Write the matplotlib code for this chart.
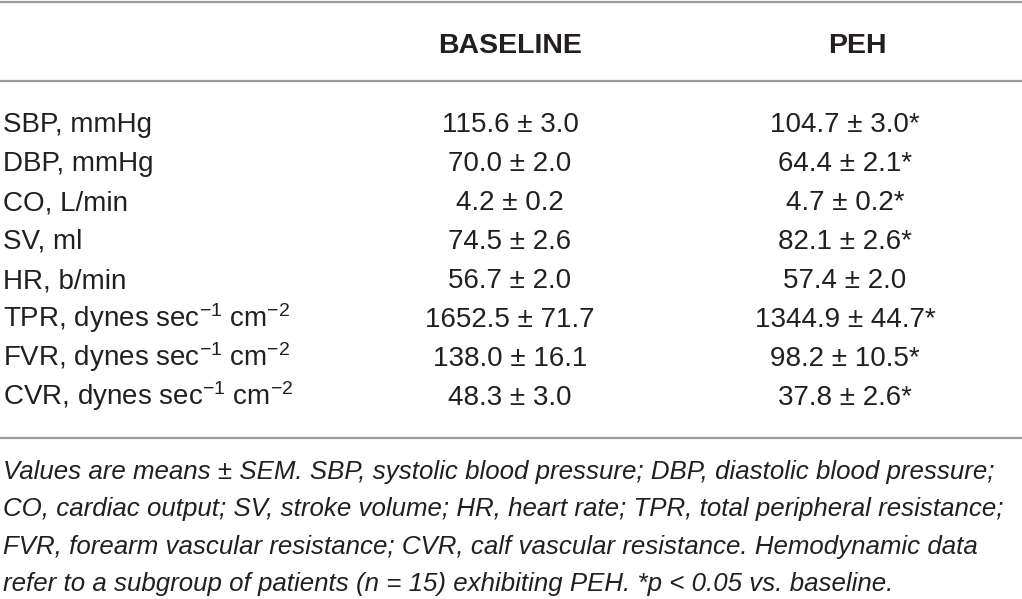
import matplotlib
matplotlib.use("Agg")
import matplotlib.pyplot as plt

# ---- data ----
col_headers = ["BASELINE", "PEH"]
row_labels = [
    "SBP, mmHg",
    "DBP, mmHg",
    "CO, L/min",
    "SV, ml",
    "HR, b/min",
    r"TPR, dynes sec$^{-1}$ cm$^{-2}$",
    r"FVR, dynes sec$^{-1}$ cm$^{-2}$",
    r"CVR, dynes sec$^{-1}$ cm$^{-2}$",
]
baseline_mean = ["115.6", "70.0", "4.2", "74.5", "56.7", "1652.5", "138.0", "48.3"]
baseline_sem = ["3.0", "2.0", "0.2", "2.6", "2.0", "71.7", "16.1", "3.0"]
peh_mean = ["104.7", "64.4", "4.7", "82.1", "57.4", "1344.9", "98.2", "37.8"]
peh_sem = ["3.0", "2.1", "0.2", "2.6", "2.0", "44.7", "10.5", "2.6"]
peh_sig = [True, True, True, True, False, True, True, True]
footnote_lines = [
    "Values are means ± SEM. SBP, systolic blood pressure; DBP, diastolic blood pressure;",
    "CO, cardiac output; SV, stroke volume; HR, heart rate; TPR, total peripheral resistance;",
    "FVR, forearm vascular resistance; CVR, calf vascular resistance. Hemodynamic data",
    "refer to a subgroup of patients (n = 15) exhibiting PEH. *p < 0.05 vs. baseline.",
]

# ---- style ----
plt.rcParams["font.family"] = ["Liberation Sans", "DejaVu Sans"]
plt.rcParams["mathtext.fontset"] = "custom"
plt.rcParams["mathtext.rm"] = "Liberation Sans"
plt.rcParams["mathtext.it"] = "Liberation Sans:italic"
plt.rcParams["mathtext.bf"] = "Liberation Sans:bold"
plt.rcParams["mathtext.default"] = "regular"

TXT = "#231f20"
LINE = "#9a9a9a"
FS = 20
FS_HEAD = 20.5
FS_FOOT = 18.6

W, H = 1022, 599
fig = plt.figure(figsize=(W / 100, H / 100), dpi=100)
ax = fig.add_axes([0, 0, 1, 1])
ax.set_xlim(0, W)
ax.set_ylim(H, 0)
ax.axis("off")

x_label = 3
x_base = 510
x_peh_head = 857
x_peh = 845
y_head = 53
y_row0 = 132
row_step = 39
y_foot0 = 479
foot_step = 37.3

# rules
for y in (1.5, 81, 438):
    ax.axhline(y, color=LINE, lw=1.6)

ax.text(x_base, y_head, col_headers[0], ha="center", va="baseline",
        fontsize=FS_HEAD, fontweight="bold", color=TXT)
ax.text(x_peh_head, y_head, col_headers[1], ha="center", va="baseline",
        fontsize=FS_HEAD, fontweight="bold", color=TXT)

for i, lab in enumerate(row_labels):
    y = y_row0 + i * row_step
    ax.text(x_label, y, lab, ha="left", va="baseline", fontsize=FS, color=TXT)
    ax.text(x_base, y, f"{baseline_mean[i]} ± {baseline_sem[i]}", ha="center",
            va="baseline", fontsize=FS, color=TXT)
    s = f"{peh_mean[i]} ± {peh_sem[i]}" + ("*" if peh_sig[i] else "")
    ax.text(x_peh, y, s, ha="center", va="baseline", fontsize=FS, color=TXT)

for j, line in enumerate(footnote_lines):
    ax.text(x_label, y_foot0 + j * foot_step, line, ha="left", va="baseline",
            fontsize=FS_FOOT, style="italic", color=TXT)

fig.savefig("out.png", dpi=100)
